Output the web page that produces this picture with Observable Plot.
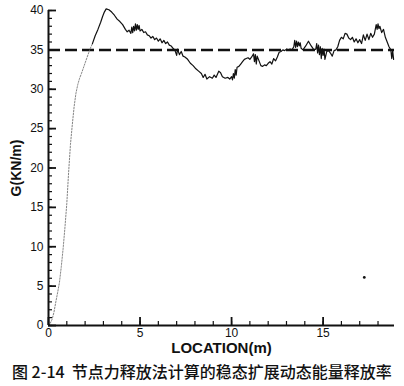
<!DOCTYPE html>
<html><head><meta charset="utf-8">
<script src="https://cdn.jsdelivr.net/npm/d3@7"></script>
<script src="https://cdn.jsdelivr.net/npm/@observablehq/plot@0.6"></script>
<style>
body{margin:0;background:#fff;width:404px;height:386px;overflow:hidden;}
#cap{font-family:"Noto Sans CJK SC",sans-serif;font-weight:500;font-size:16px;line-height:20px;margin-top:5px;padding-left:12px;white-space:pre;color:#111;}
</style></head>
<body><div id="chart"></div><div id="cap">图 2-14  节点力释放法计算的稳态扩展动态能量释放率</div>
<script>
// rising (start-up) part of the curve
const riseX = [0,0.1,0.2,0.3,0.4,0.5,0.6,0.7,0.8,0.9,1.0,1.1,1.2,1.3,1.4,1.5,1.6,1.7,1.8,1.95,2.1,2.25,2.4];
const riseY = [0,0.3,0.8,1.7,3.0,4.2,5.5,7.5,9.8,12.5,15.5,19.5,23,25.5,27.8,29.5,30.6,31.4,32.0,33.0,34.0,35.0,35.8];
// steady propagation part
const steadyX = [2.4,2.55,2.7,2.85,2.95,3.05,3.15,3.3,3.45,3.6,3.75,3.9,4.05,4.2,4.3,4.4,4.5,4.55,4.6,4.65,4.7,4.75,4.8,4.85,4.9,4.95,5.0,5.1,5.2,5.3,5.4,5.5,5.6,5.7,5.8,5.9,6.0,6.1,6.2,6.3,6.4,6.5,6.6,6.7,6.8,6.9,7.0,7.05,7.15,7.25,7.35,7.45,7.6,7.75,7.9,8.05,8.2,8.35,8.45,8.55,8.65,8.8,8.95,9.05,9.15,9.3,9.4,9.5,9.65,9.8,9.9,10.0,10.05,10.1,10.15,10.2,10.25,10.3,10.4,10.5,10.6,10.7,10.8,10.9,11.0,11.1,11.2,11.25,11.3,11.35,11.4,11.5,11.6,11.7,11.8,11.9,12.0,12.1,12.2,12.3,12.4,12.5,12.6,12.7,12.8,12.9,13.0,13.1,13.2,13.3,13.4,13.45,13.5,13.55,13.6,13.65,13.7,13.75,13.8,13.9,14.05,14.2,14.35,14.5,14.6,14.65,14.7,14.75,14.8,14.85,14.9,14.95,15.0,15.05,15.1,15.2,15.3,15.4,15.5,15.6,15.7,15.8,15.9,16.0,16.1,16.2,16.3,16.4,16.5,16.6,16.7,16.8,16.9,17.0,17.1,17.2,17.3,17.4,17.5,17.6,17.7,17.8,17.9,17.95,18.0,18.05,18.1,18.2,18.3,18.4,18.5,18.6,18.7,18.75,18.8,18.85];
const steadyY = [35.8,36.8,37.6,38.5,39.2,39.8,40.2,40.1,39.8,39.4,38.9,38.6,38.2,37.6,37.3,37.5,37.1,37.9,37.2,38.0,37.4,38.3,37.5,38.2,37.6,38.1,37.4,37.6,37.2,37.3,36.9,36.8,36.5,36.7,36.3,36.5,36.1,36.4,35.9,36.2,35.8,36.0,35.6,35.5,35.2,35.0,34.3,35.1,34.4,34.8,34.2,34.1,33.8,33.3,33.0,32.6,32.3,32.0,31.5,31.9,31.3,31.6,31.4,31.8,31.5,32.3,32.1,31.6,31.4,31.5,31.3,31.6,31.2,32.0,31.4,32.5,31.8,32.8,32.9,33.2,33.5,33.8,33.9,34.0,33.8,34.1,34.5,33.5,34.4,33.2,34.2,33.6,33.0,32.9,33.1,33.0,33.3,33.5,33.2,33.9,33.6,34.1,34.7,34.8,35.0,34.9,35.1,35.0,35.1,35.0,35.4,36.2,35.3,36.1,35.4,36.0,35.5,35.9,35.2,35.0,35.5,36.1,35.5,35.0,35.1,35.8,34.6,35.6,34.4,35.4,33.9,35.2,34.3,35.1,33.8,34.8,34.9,34.6,34.2,34.9,35.0,35.4,36.2,36.6,36.4,37.1,37.0,36.5,36.3,36.6,36.0,36.4,35.9,36.3,35.8,36.9,36.2,37.0,36.3,37.1,36.6,37.0,38.2,37.6,38.3,37.7,38.0,37.2,37.6,36.6,36.0,35.4,35.0,33.9,34.9,33.8];
// stray mark in the plot area
const strayX = [17.25];
const strayY = [6.1];
const refLevel = [35];
const xMajor = [0,5,10,15];
const yMajor = [0,5,10,15,20,25,30,35,40];
const xMinor = d3.range(0,19,1);
const yMinor = d3.range(0,41,1);

const W = 404, H = 356, ML = 48, MR = 10, MT = 10, MB = 31;
const FW = W - ML - MR, FH = H - MT - MB;

const rise = riseX.map((x,i)=>({x, y: riseY[i]}));
const steady = steadyX.map((x,i)=>({x, y: steadyY[i]}));
const stray = strayX.map((x,i)=>({x, y: strayY[i]}));

const chart = Plot.plot({
  width: W, height: H,
  marginLeft: ML, marginRight: MR, marginTop: MT, marginBottom: MB,
  style: {fontFamily: "'Liberation Sans', Arial, sans-serif", fontSize: "12px", color: "#111", background: "#fff"},
  x: {domain: [0, 18.9], axis: null},
  y: {domain: [0, 40], axis: null},
  marks: [
    Plot.ruleY(refLevel, {stroke: "#111", strokeWidth: 2.5, strokeDasharray: "12,5"}),
    Plot.line(rise, {x: "x", y: "y", stroke: "#666", strokeWidth: 0.8, strokeDasharray: "1.5,1.5"}),
    Plot.line(steady, {x: "x", y: "y", stroke: "#111", strokeWidth: 1.2}),
    Plot.dot(stray, {x: "x", y: "y", r: 1.4, fill: "#111", stroke: null}),
    // inward-pointing minor and major ticks
    Plot.tickX(xMinor, {x: d => d, insetTop: FH - 4, stroke: "#111", strokeWidth: 1.2}),
    Plot.tickX(xMajor, {x: d => d, insetTop: FH - 8, stroke: "#111", strokeWidth: 1.8}),
    Plot.tickY(yMinor, {y: d => d, insetRight: FW - 4, stroke: "#111", strokeWidth: 1.2}),
    Plot.tickY(yMajor, {y: d => d, insetRight: FW - 8, stroke: "#111", strokeWidth: 1.8}),
    Plot.axisX({ticks: xMajor, tickSize: 0, tickPadding: 3, tickFormat: d3.format("d"), label: null, fontSize: 12}),
    Plot.axisY({ticks: yMajor, tickSize: 0, tickPadding: 5, tickFormat: d3.format("d"), label: null, fontSize: 12}),
    Plot.ruleX([0], {stroke: "#111", strokeWidth: 2}),
    Plot.ruleY([0], {stroke: "#111", strokeWidth: 2}),
    Plot.text(["G(KN/m)"], {frameAnchor: "left", textAnchor: "middle", lineAnchor: "middle", dx: -32, rotate: -90, fontWeight: "bold", fontSize: 14, fill: "#111"}),
    Plot.text(["LOCATION(m)"], {frameAnchor: "bottom", textAnchor: "middle", lineAnchor: "middle", dy: 23, fontWeight: "bold", fontSize: 15, fill: "#111"})
  ]
});
document.getElementById("chart").append(chart);
</script>
</body></html>
